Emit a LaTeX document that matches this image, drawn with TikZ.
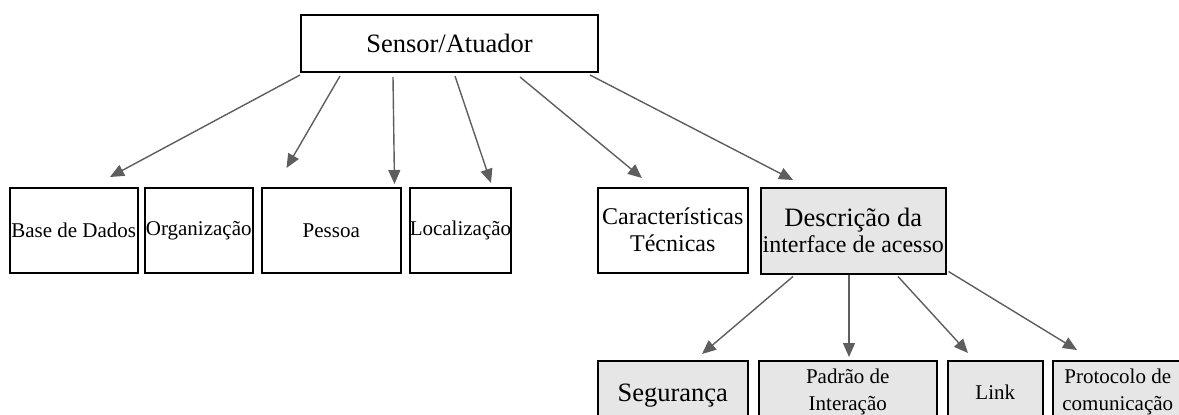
\documentclass[tikz,border=0pt]{standalone}
\usepackage{fontspec}
\setmainfont{Liberation Serif}
\usetikzlibrary{arrows.meta}
\definecolor{arrowgray}{HTML}{5E5E5E}
\definecolor{boxgray}{HTML}{E6E6E6}
\tikzset{
  box/.style={draw=black, line width=1.5pt, inner sep=0pt, anchor=north west, align=center},
  graybox/.style={box, fill=boxgray},
  arr/.style={draw=arrowgray, line width=1.4pt, -{Triangle[length=14pt,width=12pt]}},
  fbig/.style={font=\fontsize{26.5}{30}\selectfont},
  fmid/.style={font=\fontsize{24}{27}\selectfont},
  fsmall/.style={font=\fontsize{21}{27}\selectfont},
}
\begin{document}
\begin{tikzpicture}[x=1pt,y=-1pt]
\useasboundingbox (0,0) rectangle (1179,415);
\clip (0,0) rectangle (1179,415);
% root
\node[box, line width=2pt, minimum width=297pt, minimum height=57pt, fbig] (top) at (300,14) {Sensor/Atuador};
% level 1
\node[box, minimum width=128pt, minimum height=85pt, fsmall] (base) at (9,187) {Base de Dados};
\node[box, minimum width=108pt, minimum height=85pt, fsmall] (org) at (144,187) {Organização};
\node[box, minimum width=139pt, minimum height=85pt, fsmall] (pessoa) at (261,187) {Pessoa};
\node[box, minimum width=101pt, minimum height=85pt, fsmall] (local) at (409,187) {Localização};
\node[box, minimum width=150pt, minimum height=85pt, fmid] (carac) at (597,187) {Características\\Técnicas};
\node[graybox, minimum width=185pt, minimum height=86pt, font=\fontsize{24}{26}\selectfont] (desc) at (760,187) {{\fontsize{26.5}{26}\selectfont Descrição da}\\interface de acesso};
% level 2
\node[graybox, minimum width=150pt, minimum height=70pt, fbig] (seg) at (597,360) {Segurança};
\node[graybox, minimum width=178pt, minimum height=63pt, fsmall] (padrao) at (758,360) {Padrão de\\Interação};
\node[graybox, minimum width=95pt, minimum height=63pt, fsmall] (link) at (947,360) {Link};
\node[graybox, minimum width=130pt, minimum height=63pt, fsmall] (proto) at (1052,360) {Protocolo de\\comunicação};
% arrows from root
\draw[arr] ([yshift=-2pt]top.south west) -- ([xshift=101pt,yshift=10pt]base.north west);
\draw[arr] ([xshift=40pt,yshift=-3pt]top.south west) -- ([xshift=33pt,yshift=19pt]org.north east);
\draw[arr] ([xshift=93pt,yshift=-4pt]top.south west) -- ([xshift=-7pt,yshift=3pt]pessoa.north east);
\draw[arr] ([xshift=155pt,yshift=-3pt]top.south west) -- ([xshift=82pt,yshift=4pt]local.north west);
\draw[arr] ([xshift=220pt,yshift=-4pt]top.south west) -- ([xshift=45pt,yshift=9pt]carac.north west);
\draw[arr] ([xshift=-9pt,yshift=-2pt]top.south east) -- ([xshift=33pt,yshift=7pt]desc.north west);
% arrows from interface description
\draw[arr] ([xshift=33pt,yshift=-2pt]desc.south west) -- ([xshift=105pt,yshift=6pt]seg.north west);
\draw[arr] ([xshift=89pt]desc.south west) -- ([xshift=91pt,yshift=3pt]padrao.north west);
\draw[arr] ([xshift=138pt,yshift=-2pt]desc.south west) -- ([xshift=21pt,yshift=7pt]link.north west);
\draw[arr] ([xshift=2pt,yshift=3pt]desc.south east) -- ([xshift=25pt,yshift=10pt]proto.north west);
\end{tikzpicture}
\end{document}
